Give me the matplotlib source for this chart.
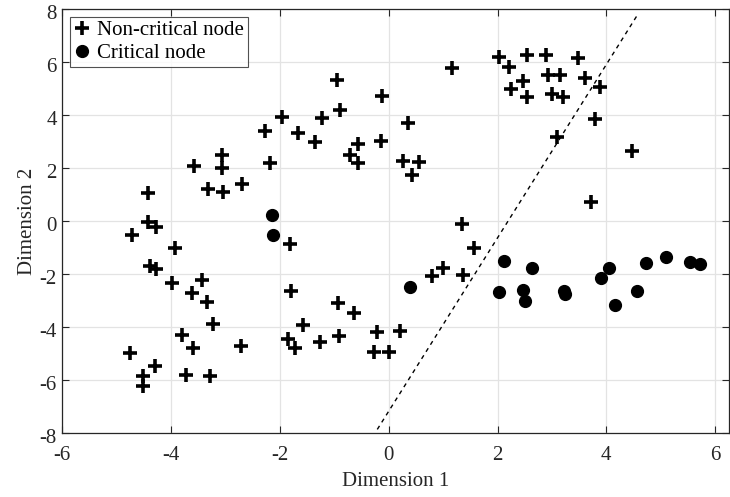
import matplotlib
matplotlib.use("Agg")
import matplotlib.pyplot as plt
import matplotlib.transforms as mtransforms

plt.rcParams['font.family'] = ['Liberation Serif', 'DejaVu Serif']
plt.rcParams['axes.unicode_minus'] = False

noncrit_x = [-0.95, -0.90, -1.97, -2.27, -1.67, -1.36, -1.23, -0.57, -0.72, -0.57,
             -2.18, -3.06, -3.06, -3.57, -3.32, -3.05, -2.69, -4.42, -4.42, -4.28,
             -4.72, -3.92, -1.82, -4.38, -4.28, -3.99, -3.44, -3.61, -3.34, -3.23,
             -3.80, -3.60, -2.71, -4.76, -4.30, -4.52, -4.52, -3.73, -3.28, -1.80,
             -0.94, -0.63, -1.57, -1.85, -1.73, -1.27, -0.92, 1.57, 1.00, 0.80,
             1.37, -0.21, 0.21, -0.27, 0.01, 1.17, -0.12, 0.35, -0.15, 0.26,
             0.56, 0.42, 1.35, 2.02, 2.21, 2.55, 2.89, 3.47, 2.46, 2.25,
             2.55, 2.92, 3.15, 3.01, 3.21, 3.60, 3.88, 3.79, 3.09, 4.47, 3.72]
noncrit_y = [5.33, 4.19, 3.95, 3.41, 3.34, 3.00, 3.89, 2.94, 2.50, 2.19,
             2.21, 2.50, 2.00, 2.10, 1.21, 1.12, 1.40, 1.08, -0.01, -0.20,
             -0.52, -1.02, -0.85, -1.69, -1.81, -2.32, -2.21, -2.72, -3.03, -3.88,
             -4.27, -4.79, -4.71, -4.98, -5.45, -5.84, -6.20, -5.80, -5.83, -2.62,
             -3.07, -3.45, -3.91, -4.45, -4.76, -4.54, -4.32, -1.00, -1.74, -2.05,
             -2.03, -4.17, -4.13, -4.94, -4.94, 5.80, 4.74, 3.72, 3.04, 2.28,
             2.23, 1.77, -0.11, 6.21, 5.83, 6.27, 6.27, 6.15, 5.29, 4.99,
             4.70, 5.52, 5.52, 4.79, 4.68, 5.40, 5.06, 3.86, 3.19, 2.67, 0.72]

crit_x = [-2.14, -2.13, 0.40, 2.11, 2.64, 2.03, 2.46, 2.51, 3.22, 3.24,
          3.91, 4.05, 4.15, 4.56, 4.72, 5.10, 5.54, 5.72]
crit_y = [0.24, -0.52, -2.47, -1.50, -1.74, -2.68, -2.57, -3.00, -2.62, -2.74,
          -2.15, -1.77, -3.16, -2.62, -1.56, -1.34, -1.55, -1.61]

boundary_x = [-0.21, 4.58]
boundary_y = [-7.85, 7.82]

xticks = [-6, -4, -2, 0, 2, 4, 6]
yticks = [-8, -6, -4, -2, 0, 2, 4, 6, 8]

fig = plt.figure(figsize=(7.3, 4.97), dpi=100)
ax = fig.add_axes([0.0853, 0.128, 0.913, 0.853])

ax.plot(noncrit_x, noncrit_y, linestyle='none', marker='+', markersize=10,
        markeredgewidth=2.6, color='black', label='Non-critical node', zorder=3)
ax.plot(crit_x, crit_y, linestyle='none', marker='o', markersize=8.5,
        color='black', label='Critical node', zorder=3)
ax.plot(boundary_x, boundary_y, linestyle=(0, (3, 3)), color='black', linewidth=1.0, zorder=2)

ax.set_xlim(-6, 6.25)
ax.set_ylim(-8, 8)
ax.set_xticks(xticks)
ax.set_yticks(yticks)
ax.grid(True, color='#e3e3e3', linewidth=0.9)
ax.set_axisbelow(True)
ax.tick_params(direction='in', top=True, right=True, labelsize=15, colors='#262626',
               length=5, width=0.8)
ax.tick_params(axis='x', pad=9)
ax.tick_params(axis='y', pad=4)
shift = mtransforms.ScaledTranslation(0, -3 / 100, fig.dpi_scale_trans)
for lbl in ax.get_yticklabels():
    lbl.set_transform(lbl.get_transform() + shift)
for s in ax.spines.values():
    s.set_color('#262626')
    s.set_linewidth(0.9)

ax.set_xlabel('Dimension 1', fontsize=15, color='#262626', labelpad=5)
ax.set_ylabel('Dimension 2', fontsize=15, color='#262626', labelpad=2)

leg = ax.legend(loc='upper left', fontsize=15, frameon=True, fancybox=False,
                edgecolor='#262626', borderpad=0.2, handlelength=0.8,
                handletextpad=0.3, labelspacing=0.15, borderaxespad=0.35)
leg.get_frame().set_linewidth(0.8)

fig.savefig('out.png', dpi=100)
